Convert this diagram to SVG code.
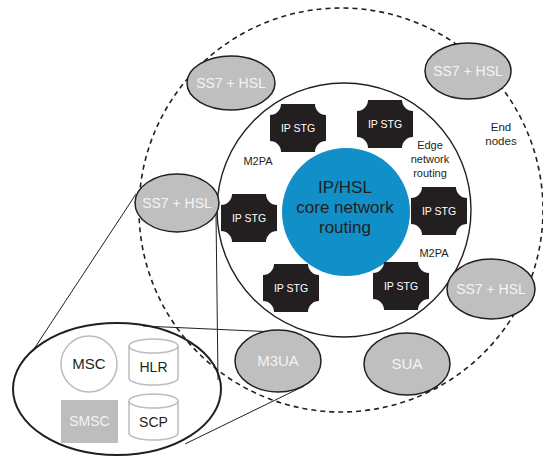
<svg xmlns="http://www.w3.org/2000/svg" width="543" height="462" viewBox="0 0 543 462">
  <style>
    .lbl { font-family: "Liberation Sans", Arial, sans-serif; fill: #231f20; text-anchor: middle; }
    .end { fill: #bfbfbf; stroke: #231f20; stroke-width: 1.5; }
    .endtxt { font-family: "Liberation Sans", Arial, sans-serif; fill: #f4f4f4; font-size: 14px; text-anchor: middle; }
    .stg { fill: #231f20; }
    .stgtxt { font-family: "Liberation Sans", Arial, sans-serif; fill: #ffffff; font-size: 10.5px; text-anchor: middle; }
    .el { fill: #ffffff; stroke: #bcbcbc; stroke-width: 1.5; }
    .eltxt { font-family: "Liberation Sans", Arial, sans-serif; fill: #231f20; font-size: 14px; text-anchor: middle; }
    .wire { fill: none; stroke: #231f20; stroke-width: 1; }
  </style>
  <defs>
    <!-- signalling transfer gateway: block with concave corners, centred on 0,0 -->
    <path id="stgShape" d="M-17,-24 H17 A11,11 0 0 0 28,-13 V13 A11,11 0 0 0 17,24 H-17 A11,11 0 0 0 -28,13 V-13 A11,11 0 0 0 -17,-24 Z"/>
  </defs>

  <rect width="543" height="462" fill="#ffffff"/>

  <!-- end-node domain and edge routing ring -->
  <g id="end-node-domain">
    <circle cx="341" cy="210" r="202" fill="none" stroke="#231f20" stroke-width="1.6" stroke-dasharray="5 4"/>
  </g>
  <g id="edge-ring">
    <circle cx="344" cy="210" r="127" fill="none" stroke="#231f20" stroke-width="1.4"/>
  </g>

  <!-- detail projection lines -->
  <g id="connectors" class="wire">
    <line x1="136" y1="194" x2="32" y2="352"/>
    <line x1="216" y1="214" x2="218" y2="380"/>
    <line x1="143" y1="326" x2="276" y2="332"/>
    <line x1="185" y1="444" x2="304" y2="386"/>
  </g>

  <!-- core -->
  <g id="core">
    <circle cx="346" cy="212" r="64" fill="#118fc8"/>
    <text class="lbl" font-size="17" x="345" y="193">IP/HSL</text>
    <text class="lbl" font-size="17" x="345" y="213">core network</text>
    <text class="lbl" font-size="17" x="345" y="233">routing</text>
  </g>

  <!-- gateways -->
  <g id="stg-1"><use href="#stgShape" class="stg" x="298" y="128"/><text class="stgtxt" x="298" y="132">IP STG</text></g>
  <g id="stg-2"><use href="#stgShape" class="stg" x="385" y="124"/><text class="stgtxt" x="385" y="128">IP STG</text></g>
  <g id="stg-3"><use href="#stgShape" class="stg" x="249" y="218"/><text class="stgtxt" x="249" y="222">IP STG</text></g>
  <g id="stg-4"><use href="#stgShape" class="stg" x="439" y="211"/><text class="stgtxt" x="439" y="215">IP STG</text></g>
  <g id="stg-5"><use href="#stgShape" class="stg" x="291" y="288"/><text class="stgtxt" x="291" y="292">IP STG</text></g>
  <g id="stg-6"><use href="#stgShape" class="stg" x="401" y="286"/><text class="stgtxt" x="401" y="290">IP STG</text></g>

  <!-- end nodes -->
  <g id="ss7-top-left"><ellipse class="end" cx="231" cy="83" rx="44" ry="27"/><text class="endtxt" x="231" y="88">SS7 + HSL</text></g>
  <g id="ss7-top-right"><ellipse class="end" cx="468" cy="71" rx="43" ry="28"/><text class="endtxt" x="468" y="76">SS7 + HSL</text></g>
  <g id="ss7-left"><ellipse class="end" cx="177" cy="203" rx="42" ry="29"/><text class="endtxt" x="177" y="208">SS7 + HSL</text></g>
  <g id="ss7-right"><ellipse class="end" cx="491" cy="289" rx="44" ry="30"/><text class="endtxt" x="491" y="294">SS7 + HSL</text></g>
  <g id="m3ua"><ellipse class="end" cx="278" cy="361" rx="43" ry="31"/><text class="endtxt" font-size="15" x="278" y="366" style="font-size:15px">M3UA</text></g>
  <g id="sua"><ellipse class="end" cx="407" cy="364" rx="43" ry="31"/><text class="endtxt" x="407" y="369" style="font-size:15px">SUA</text></g>

  <!-- labels -->
  <g id="labels">
    <text class="lbl" font-size="11" x="258" y="165">M2PA</text>
    <text class="lbl" font-size="11" x="434" y="257">M2PA</text>
    <text class="lbl" font-size="11" x="430" y="149">Edge</text>
    <text class="lbl" font-size="11" x="430" y="163">network</text>
    <text class="lbl" font-size="11" x="430" y="177">routing</text>
    <text class="lbl" font-size="11.5" x="501" y="131">End</text>
    <text class="lbl" font-size="11.5" x="501" y="145">nodes</text>
  </g>

  <!-- network elements detail -->
  <g id="element-detail">
    <ellipse cx="117" cy="389" rx="104" ry="66" fill="none" stroke="#231f20" stroke-width="2"/>
  </g>
  <g id="msc">
    <circle class="el" cx="89" cy="364" r="28"/>
    <text class="eltxt" x="89" y="369" style="font-size:15px">MSC</text>
  </g>
  <g id="hlr">
    <path class="el" d="M129,346 A24.5,7 0 0 1 178,346 V378 A24.5,7 0 0 1 129,378 Z"/>
    <path class="el" d="M129,346 A24.5,7 0 0 0 178,346"/>
    <text class="eltxt" x="153.5" y="372">HLR</text>
  </g>
  <g id="smsc">
    <rect x="61" y="400" width="57" height="43" fill="#bdbdbd"/>
    <text class="eltxt" x="89.5" y="426" style="fill:#f4f4f4">SMSC</text>
  </g>
  <g id="scp">
    <path class="el" d="M129,401 A24.5,7 0 0 1 178,401 V433 A24.5,7 0 0 1 129,433 Z"/>
    <path class="el" d="M129,401 A24.5,7 0 0 0 178,401"/>
    <text class="eltxt" x="153.5" y="427">SCP</text>
  </g>
</svg>
